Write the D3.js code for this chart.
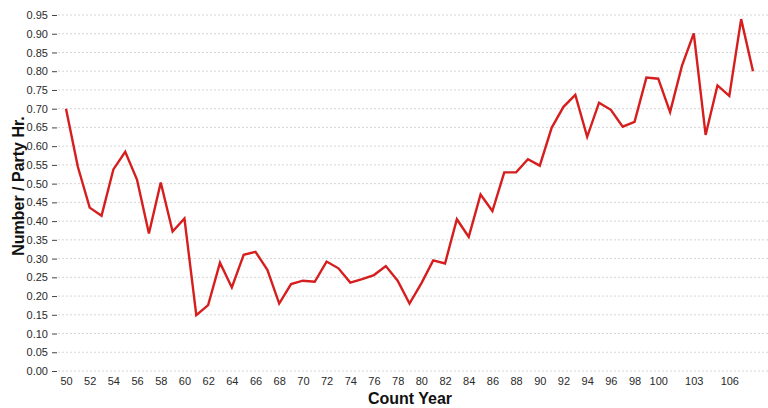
<!DOCTYPE html>
<html>
<head>
<meta charset="utf-8">
<script src="https://cdn.jsdelivr.net/npm/d3@7"></script>
<style>
  html, body { margin: 0; padding: 0; background: #fff; }
  svg { display: block; font-family: "Liberation Sans", Arial, sans-serif; }
</style>
</head>
<body>
<svg id="chart" width="768" height="408"></svg>
<script>
// Count years (Christmas count numbers) and birds per party hour
const countYears = d3.range(50, 109);
const perPartyHour = [
  0.700, 0.545, 0.436, 0.414, 0.538, 0.585, 0.510, 0.367, 0.503, 0.372,
  0.407, 0.149, 0.176, 0.289, 0.223, 0.310, 0.318, 0.270, 0.180, 0.232,
  0.241, 0.238, 0.292, 0.274, 0.236, 0.245, 0.256, 0.280, 0.241, 0.180,
  0.234, 0.295, 0.287, 0.405, 0.358, 0.471, 0.427, 0.530, 0.530, 0.565,
  0.548, 0.649, 0.705, 0.737, 0.625, 0.716, 0.697, 0.652, 0.665, 0.783,
  0.780, 0.691, 0.814, 0.901, 0.630, 0.762, 0.734, 0.939, 0.800
];
const xTickLabels = [50, 52, 54, 56, 58, 60, 62, 64, 66, 68, 70, 72, 74, 76, 78,
  80, 82, 84, 86, 88, 90, 92, 94, 96, 98, 100, 103, 106];
const yTickValues = d3.range(0, 20).map(i => +(i * 0.05).toFixed(2));

const svg = d3.select("#chart");
const plot = { left: 58, right: 768, top: 15, bottom: 371 };

const x = d3.scalePoint()
  .domain(countYears)
  .range([66, 753]);

const y = d3.scaleLinear()
  .domain([0, 0.95])
  .range([plot.bottom, plot.top]);

// Dotted horizontal grid
svg.append("g")
  .selectAll("line")
  .data(yTickValues)
  .join("line")
  .attr("x1", plot.left)
  .attr("x2", plot.right)
  .attr("y1", d => y(d))
  .attr("y2", d => y(d))
  .attr("stroke", "#d6d6d6")
  .attr("stroke-width", 1)
  .attr("stroke-dasharray", "2,2");

// Y axis: ticks and labels
const yAxis = svg.append("g")
  .attr("transform", `translate(${plot.left - 1},0)`)
  .call(d3.axisLeft(y).tickValues(yTickValues).tickFormat(d3.format(".2f")).tickSize(5).tickPadding(4));
yAxis.select(".domain").remove();
yAxis.selectAll(".tick line").attr("stroke", "#444");
yAxis.selectAll(".tick text")
  .attr("font-size", 11)
  .attr("fill", "#2a2a2a")
  .attr("font-family", "Liberation Sans, Arial, sans-serif");

// X axis: labels only
const xAxis = svg.append("g")
  .attr("transform", `translate(0,${plot.bottom})`)
  .call(d3.axisBottom(x).tickValues(xTickLabels).tickSize(0).tickPadding(6));
xAxis.select(".domain").remove();
xAxis.selectAll(".tick text")
  .attr("font-size", 11)
  .attr("fill", "#2a2a2a")
  .attr("font-family", "Liberation Sans, Arial, sans-serif");

// Data line
const line = d3.line()
  .x((d, i) => x(countYears[i]))
  .y(d => y(d));

svg.append("path")
  .datum(perPartyHour)
  .attr("d", line)
  .attr("fill", "none")
  .attr("stroke", "#d61e1e")
  .attr("stroke-width", 2.4)
  .attr("stroke-linejoin", "miter");

// Axis titles
svg.append("text")
  .attr("x", 410)
  .attr("y", 404)
  .attr("text-anchor", "middle")
  .attr("font-size", 16)
  .attr("font-weight", "bold")
  .attr("fill", "#111")
  .text("Count Year");

svg.append("text")
  .attr("transform", `translate(24,${186}) rotate(-90)`)
  .attr("text-anchor", "middle")
  .attr("font-size", 16)
  .attr("font-weight", "bold")
  .attr("fill", "#111")
  .text("Number / Party Hr.");
</script>
</body>
</html>
